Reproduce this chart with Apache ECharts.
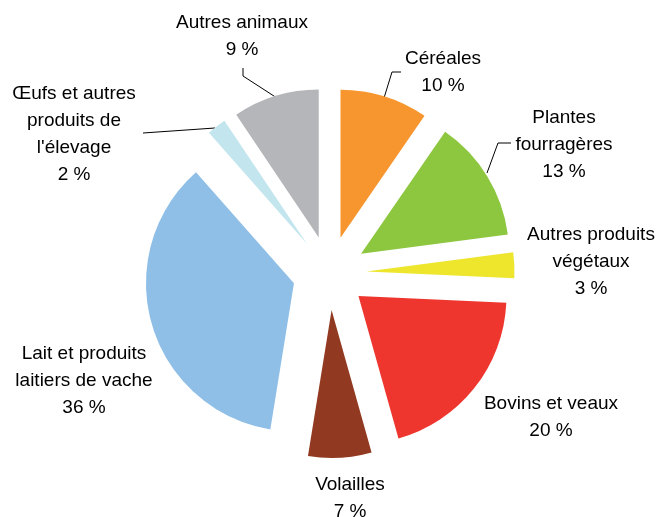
<!DOCTYPE html>
<html>
<head>
<meta charset="utf-8">
<script src="https://cdn.jsdelivr.net/npm/echarts@6/dist/echarts.min.js"></script>
<style>
  html, body { margin: 0; padding: 0; background: #fff; }
  #chart { width: 659px; height: 517px; }
</style>
</head>
<body>
<div id="chart"></div>
<script>
// catégories et parts (%)
const categories = [
  'Céréales',
  'Plantes\nfourragères',
  'Autres produits\nvégétaux',
  'Bovins et veaux',
  'Volailles',
  'Lait et produits\nlaitiers de vache',
  'Œufs et autres\nproduits de\nl\'élevage',
  'Autres animaux'
]
const values = [9.6, 13.3, 2.8, 19.9, 6.9, 35.9, 2.1, 9.4]
const colors = ['#F7962F', '#8DC63F', '#EDE62D', '#EE352E', '#923A21', '#8FBFE6', '#C2E5EE', '#B5B6BA']

// position des étiquettes (centre du bloc de texte) et lignes de rappel
const labelPos = [
  [443, 72], [564, 145], [591, 262], [551, 417],
  [350, 498], [84, 381], [74, 134], [242, 36]
]
const leaderLines = {
  0: [[384, 98], [392, 72], [401, 72]],
  1: [[487, 173], [498, 143], [511, 143]],
  6: [[215, 128], [143, 133]],
  7: [[277, 98], [243, 76], [243, 68]]
}

const center = [329.5, 273]
const radius = 148

const chart = echarts.init(document.getElementById('chart'))

chart.setOption({
  animation: false,
  backgroundColor: '#fff',
  series: [
    // secteurs éclatés
    {
      type: 'pie',
      center: center,
      radius: [0, radius],
      startAngle: 90,
      clockwise: true,
      selectedMode: 'multiple',
      selectedOffset: 37,
      emphasis: { disabled: true },
      itemStyle: { borderWidth: 0 },
      label: { show: false },
      labelLine: { show: false },
      data: categories.map((name, i) => ({
        name: name,
        value: values[i],
        selected: true,
        itemStyle: { color: colors[i] }
      }))
    },
    // étiquettes
    {
      type: 'pie',
      center: center,
      radius: [0, radius],
      startAngle: 90,
      clockwise: true,
      silent: true,
      avoidLabelOverlap: false,
      emphasis: { disabled: true },
      itemStyle: { color: 'rgba(0,0,0,0)', borderWidth: 0 },
      label: {
        show: true,
        position: 'outside',
        overflow: 'none',
        fontFamily: 'Liberation Sans, Arial, sans-serif',
        fontSize: 19,
        lineHeight: 27,
        color: '#000',
        align: 'center',
        formatter: (p) => p.name + '\n' + Math.round(p.value) + ' %'
      },
      labelLine: {
        show: true,
        smooth: false,
        lineStyle: { color: '#000', width: 1 }
      },
      labelLayout: (params) => {
        const i = params.dataIndex
        const out = {
          x: labelPos[i][0],
          y: labelPos[i][1],
          align: 'center',
          verticalAlign: 'middle'
        }
        if (leaderLines[i]) out.labelLinePoints = leaderLines[i]
        return out
      },
      data: categories.map((name, i) => ({
        name: name,
        value: values[i],
        labelLine: { show: !!leaderLines[i] }
      }))
    }
  ]
})
</script>
</body>
</html>
